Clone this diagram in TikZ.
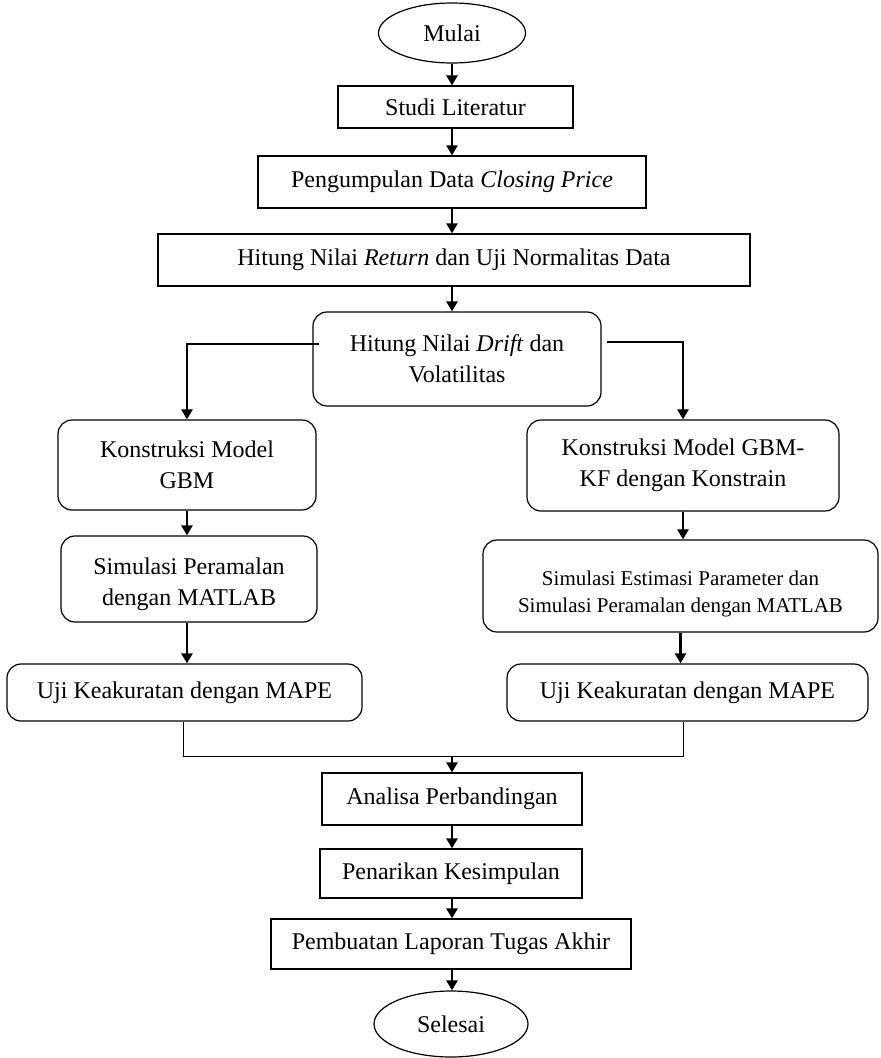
\documentclass[tikz,border=0pt]{standalone}
\usepackage{fontspec}
\setmainfont{Liberation Serif}
\usetikzlibrary{arrows.meta,shapes.geometric,calc}
\newcommand\mystrut[1]{\rule{0pt}{#1}}
\begin{document}
\begin{tikzpicture}[x=1pt,y=-1pt,
  box/.style={draw,line width=1.2pt,inner sep=0pt,align=center,font=\fontsize{24}{31}\selectfont},
  rbox/.style={box,rounded corners=14pt},
  term/.style={draw,ellipse,line width=1.2pt,inner sep=0pt,font=\fontsize{24}{31}\selectfont},
  arr/.style={line width=2.5pt,-{Triangle[length=10pt,width=11pt]}},
  thinline/.style={line width=1pt}]
\useasboundingbox (0,0) rectangle (881,1058);
\node[term,minimum width=147pt,minimum height=60pt] (mulai) at (452,33) {Mulai};
\node[box,minimum width=235pt,minimum height=42pt] (studi) at (455.5,107) {Studi Literatur};
\node[box,minimum width=388pt,minimum height=52pt] (kumpul) at (452,182) {Pengumpulan Data \textit{Closing Price}};
\node[box,minimum width=592pt,minimum height=52pt] (ret) at (454,260) {Hitung Nilai \textit{Return} dan Uji Normalitas Data};
\node[rbox,minimum width=288pt,minimum height=94pt] (drift) at (457,359) {Hitung Nilai \textit{Drift} dan\\Volatilitas};
\node[rbox,minimum width=258pt,minimum height=90pt] (gbm) at (187,465) {Konstruksi Model\\GBM};
\node[rbox,minimum width=312pt,minimum height=91pt] (gbmkf) at (683,465.5) {Konstruksi Model GBM-\\KF dengan Konstrain};
\node[rbox,minimum width=256pt,minimum height=86pt] (simL) at (189,579) {\mystrut{28pt}Simulasi Peramalan\\dengan MATLAB};
\node[rbox,minimum width=395pt,minimum height=92pt,font=\fontsize{21}{27}\selectfont] (simR) at (680.5,586) {\mystrut{30pt}Simulasi Estimasi Parameter dan\\Simulasi Peramalan dengan MATLAB};
\node[rbox,minimum width=355pt,minimum height=57pt] (ujiL) at (184.5,692.5) {Uji Keakuratan dengan MAPE};
\node[rbox,minimum width=361pt,minimum height=57pt] (ujiR) at (687.5,692.5) {Uji Keakuratan dengan MAPE};
\node[box,minimum width=260pt,minimum height=52pt] (analisa) at (452,799) {Analisa Perbandingan};
\node[box,minimum width=262pt,minimum height=49pt] (tarik) at (451,873.5) {Penarikan Kesimpulan};
\node[box,minimum width=360pt,minimum height=50pt] (buat) at (451,944) {Pembuatan Laporan Tugas Akhir};
\node[term,minimum width=154pt,minimum height=66pt] (selesai) at (451,1024) {Selesai};
\coordinate (dl) at (319,344);
\coordinate (dr) at (607,342);
\coordinate (ml) at (183,756);
\coordinate (mr) at (683,756);
\coordinate (m) at (452,756);
\draw[arr] (mulai.south) -- (mulai.south |- studi.north);
\draw[arr] (mulai.south |- studi.south) -- (mulai.south |- kumpul.north);
\draw[arr] (kumpul.south) -- (kumpul.south |- ret.north);
\draw[arr] (kumpul.south |- ret.south) -- (kumpul.south |- drift.north);
\draw[arr] (dl) -| (gbm.north);
\draw[arr] (dr) -| (gbmkf.north);
\draw[arr] (gbm.south) -- (gbm.south |- simL.north);
\draw[arr] (gbmkf.south) -- (gbmkf.south |- simR.north);
\draw[arr] (gbm.south |- simL.south) -- (gbm.south |- ujiL.north);
\draw[arr] (simR.south) -- (simR.south |- ujiR.north);
\draw[thinline] (ml |- ujiL.south) -- (ml) -- (mr) -- (mr |- ujiR.south);
\draw[arr] (m) -- (m |- analisa.north);
\draw[arr] (analisa.south) -- (analisa.south |- tarik.north);
\draw[arr] (analisa.south |- tarik.south) -- (analisa.south |- buat.north);
\draw[arr] (analisa.south |- buat.south) -- (analisa.south |- selesai.north);
\end{tikzpicture}
\end{document}
